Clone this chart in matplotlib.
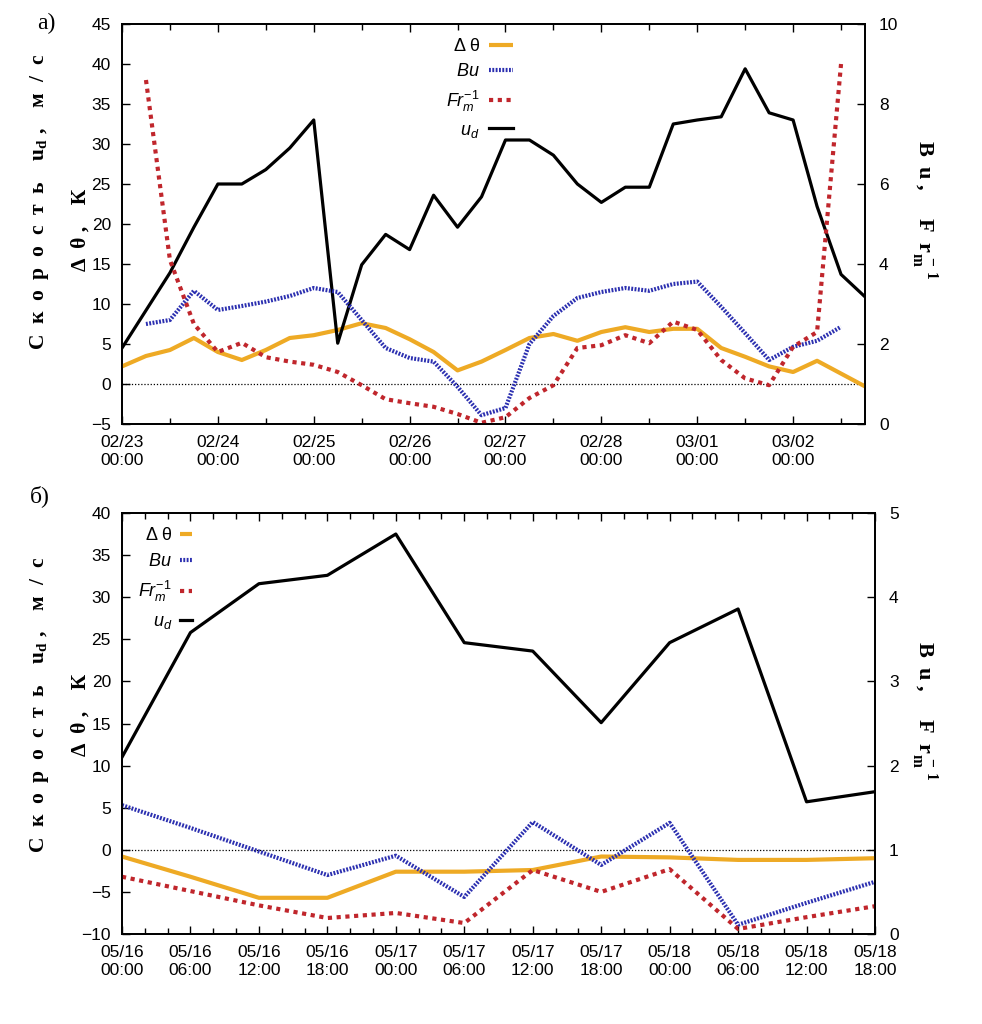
import matplotlib
matplotlib.use("Agg")
import matplotlib.pyplot as plt
import matplotlib.dates as mdates
import numpy as np
import pandas as pd

plt.rcParams["font.family"] = ["Liberation Sans", "DejaVu Sans"]
plt.rcParams["mathtext.fontset"] = "custom"
plt.rcParams["mathtext.rm"] = "Liberation Sans"
plt.rcParams["mathtext.it"] = "Liberation Sans:italic"
plt.rcParams["mathtext.bf"] = "Liberation Serif:bold"

# --- panel a): 23 Feb - 2 Mar, every 6 h ---
time_a = pd.date_range("2010-02-23 00:00", periods=32, freq="6h")
ud_a = [4.5, 9.2, 13.9, 19.6, 25.0, 25.0, 26.8, 29.5, 33.0, 5.1, 14.9, 18.7,
        16.8, 23.6, 19.6, 23.4, 30.5, 30.5, 28.6, 25.0, 22.7, 24.6, 24.6, 32.5,
        33.0, 33.4, 39.4, 33.9, 33.0, 22.2, 13.7, 10.9]
dtheta_a = [2.2, 3.5, 4.25, 5.75, 4.0, 3.0, 4.25, 5.75, 6.1, 6.75, 7.6, 7.0,
            5.6, 4.0, 1.7, 2.8, 4.25, 5.75, 6.25, 5.4, 6.5, 7.1, 6.5, 6.9,
            6.9, 4.5, 3.4, 2.2, 1.5, 2.9, 1.3, -0.3]
bu_a = [np.nan, 2.5, 2.6, 3.33, 2.85, 2.95, 3.06, 3.2, 3.4, 3.3, 2.6, 1.9,
        1.65, 1.56, 0.93, 0.22, 0.4, 2.0, 2.7, 3.15, 3.3, 3.4, 3.33, 3.5,
        3.56, 2.93, 2.27, 1.6, 1.93, 2.08, 2.43, np.nan]
fr_a = [np.nan, 8.6, 4.1, 2.5, 1.8, 2.03, 1.67, 1.56, 1.48, 1.3, 0.97, 0.62,
        0.52, 0.43, 0.25, 0.03, 0.17, 0.65, 0.97, 1.9, 1.97, 2.22, 2.02, 2.56,
        2.35, 1.6, 1.14, 0.97, 1.93, 2.3, 9.0, np.nan]

# --- panel б): 16 - 18 May, every 6 h ---
time_b = pd.date_range("2010-05-16 00:00", periods=12, freq="6h")
ud_b = [11.0, 25.8, 31.6, 32.6, 37.5, 24.6, 23.6, 15.1, 24.6, 28.6, 5.7, 6.9]
dtheta_b = [-0.8, -3.2, -5.7, -5.7, -2.6, -2.6, -2.4, -0.8, -0.9, -1.2, -1.2, -1.0]
bu_b = [1.53, 1.26, 0.98, 0.70, 0.93, 0.44, 1.33, 0.82, 1.32, 0.11, 0.37, 0.62]
fr_b = [0.68, 0.51, 0.34, 0.19, 0.25, 0.13, 0.76, 0.50, 0.77, 0.06, 0.20, 0.33]

labels = ["Δ θ", "$Bu$", "$Fr_m^{-1}$", "$u_d$"]

C_ORANGE = "#eeaa25"
C_BLUE = "#2b2fb0"
C_RED = "#c0262c"

W, H = 982, 1024
fig = plt.figure(figsize=(W / 100, H / 100), dpi=100)


def draw(rect, t, ud, dth, bu, fr, ylim_l, ylim_r, rticks):
    ax = fig.add_axes(rect)
    ax2 = ax.twinx()
    ax.axhline(0, color="black", lw=0.9, ls=(0, (1, 1.5)), zorder=1)
    l1, = ax.plot(t, dth, color=C_ORANGE, lw=3, solid_capstyle="butt", zorder=3)
    l4, = ax.plot(t, ud, color="black", lw=2.3, zorder=4)
    l2, = ax2.plot(t, bu, color=C_BLUE, lw=3, ls=(0, (0.45, 0.35)))
    l3, = ax2.plot(t, fr, color=C_RED, lw=3, ls=(0, (1, 1.1)))
    ax.set_xlim(t[0], t[-1])
    ax.set_ylim(*ylim_l)
    ax.set_yticks(np.arange(ylim_l[0], ylim_l[1] + 1, 5))
    ax2.set_ylim(*ylim_r)
    ax2.set_yticks(rticks)
    for a in (ax, ax2):
        a.tick_params(direction="in", length=6, width=1)
        a.tick_params(which="minor", direction="in", length=4, width=1)
        for s in a.spines.values():
            s.set_linewidth(1.3)
    ax.tick_params(axis="x", top=True, which="both", pad=8, labelsize=12.5)
    ax.tick_params(axis="y", labelsize=12.5, pad=8)
    ax2.tick_params(axis="y", labelsize=12.5, pad=10)
    ax.xaxis.set_major_formatter(mdates.DateFormatter("%m/%d\n%H:%M"))
    return ax, ax2, [l1, l2, l3, l4]


# panel a
ax, ax2, hs = draw([122 / W, 1 - 424 / H, 743 / W, 400 / H], time_a,
                   ud_a, dtheta_a, bu_a, fr_a, (-5, 45), (0, 10), np.arange(0, 11, 2))
ax.xaxis.set_major_locator(mdates.DayLocator())
ax.xaxis.set_minor_locator(mdates.HourLocator(byhour=[12]))
ax2.legend(hs, labels, loc="upper right", bbox_to_anchor=(0.548, 1.005),
           frameon=False, markerfirst=False, fontsize=13,
           handlelength=1.35, labelspacing=0.45, handletextpad=0.5)

# panel б
bx, bx2, hs = draw([122 / W, 1 - 934 / H, 753 / W, 421 / H], time_b,
                   ud_b, dtheta_b, bu_b, fr_b, (-10, 40), (0, 5), np.arange(0, 6, 1))
bx.xaxis.set_major_locator(mdates.HourLocator(byhour=[0, 6, 12, 18]))
bx.xaxis.set_minor_locator(mdates.HourLocator(byhour=range(0, 24, 2)))
bx2.legend(hs, labels, loc="upper left", bbox_to_anchor=(0.0, 1.005),
           frameon=False, markerfirst=False, fontsize=13,
           handlelength=0.65, labelspacing=0.5, handletextpad=0.45)

# axis titles (letter-spaced, as in the original)
serif = dict(family=["Liberation Serif", "DejaVu Serif"], weight="bold")
outer = "С  к  о  р  о  с  т  ь    $\\mathbf{u}_{\\mathbf{d}}$ ,    м  /  с"
inner = "Δ  θ ,    К"
right = "B  u ,     F  r$_{\\mathbf{m}}^{\\mathbf{\\,-\\,1}}$"
for yo, yi, yr in [(202, 230, 210), (705, 715, 711)]:
    fig.text(40 / W, 1 - yo / H, outer, rotation=90,
             ha="center", va="center", fontsize=15.5, **serif)
    fig.text(81 / W, 1 - yi / H, inner, rotation=90,
             ha="center", va="center", fontsize=15.5, **serif)
    fig.text(924 / W, 1 - yr / H, right, rotation=270,
             ha="center", va="center", fontsize=16, **serif)

fig.text(46 / W, 1 - 23 / H, "а)", ha="center", va="center", fontsize=17,
         family=["Liberation Serif", "DejaVu Serif"])
fig.text(40 / W, 1 - 496 / H, "б)", ha="center", va="center", fontsize=17,
         family=["Liberation Serif", "DejaVu Serif"])

fig.savefig("out.png", dpi=100)
